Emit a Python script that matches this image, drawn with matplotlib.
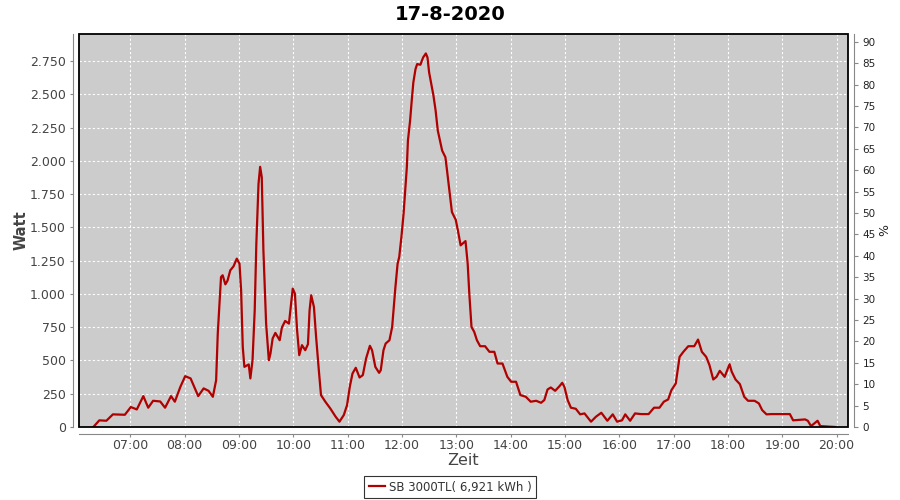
import matplotlib
matplotlib.use("Agg")
import matplotlib.pyplot as plt
from matplotlib.ticker import FuncFormatter, MultipleLocator
from matplotlib.patches import Rectangle

# time of day in hours, power in W
hours = [6.32, 6.43, 6.56, 6.68, 6.90, 7.01, 7.12, 7.24, 7.33, 7.42, 7.55, 7.64, 7.75, 7.82,
         7.92, 8.01, 8.11, 8.25, 8.35, 8.44, 8.52, 8.58, 8.61, 8.67, 8.70, 8.75, 8.79, 8.84,
         8.90, 8.96, 9.01, 9.04, 9.07, 9.10, 9.18, 9.21, 9.25, 9.29, 9.32, 9.36, 9.39, 9.42,
         9.45, 9.50, 9.55, 9.58, 9.62, 9.67, 9.75, 9.79, 9.85, 9.92, 9.96, 9.99, 10.03, 10.07,
         10.11, 10.16, 10.22, 10.27, 10.30, 10.33, 10.38, 10.42, 10.47, 10.51, 10.59, 10.68,
         10.78, 10.85, 10.93, 10.99, 11.04, 11.09, 11.15, 11.22, 11.28, 11.34, 11.41, 11.45,
         11.51, 11.58, 11.61, 11.66, 11.70, 11.77, 11.82, 11.88, 11.92, 11.95, 11.99, 12.03,
         12.06, 12.09, 12.11, 12.15, 12.18, 12.21, 12.25, 12.28, 12.34, 12.39, 12.44, 12.47,
         12.50, 12.54, 12.58, 12.62, 12.66, 12.70, 12.74, 12.80, 12.83, 12.88, 12.92, 12.99,
         13.03, 13.08, 13.17, 13.21, 13.24, 13.28, 13.33, 13.38, 13.44, 13.53, 13.61, 13.70,
         13.76, 13.85, 13.94, 14.01, 14.10, 14.18, 14.28, 14.37, 14.47, 14.56, 14.62, 14.68,
         14.74, 14.82, 14.90, 14.95, 14.99, 15.05, 15.11, 15.20, 15.28, 15.36, 15.48, 15.57,
         15.67, 15.78, 15.88, 15.96, 16.05, 16.11, 16.20, 16.29, 16.40, 16.54, 16.64, 16.74,
         16.82, 16.90, 16.96, 17.04, 17.11, 17.18, 17.27, 17.38, 17.45, 17.52, 17.60, 17.66,
         17.73, 17.79, 17.85, 17.94, 18.03, 18.07, 18.14, 18.22, 18.30, 18.37, 18.49, 18.57,
         18.63, 18.71, 18.80, 19.14, 19.20, 19.42, 19.47, 19.53, 19.59, 19.65, 19.70, 19.97]
watt = [0, 50, 47, 95, 92, 150, 132, 232, 145, 197, 192, 145, 232, 190,
        300, 382, 365, 232, 290, 272, 227, 352, 702, 1127, 1140, 1072, 1100, 1177,
        1207, 1265, 1227, 1025, 602, 452, 470, 365, 502, 877, 1377, 1827, 1955, 1877,
        1327, 777, 502, 552, 665, 707, 652, 747, 797, 777, 927, 1040, 1002, 727,
        540, 615, 577, 622, 877, 990, 902, 677, 427, 240, 190, 140,
        77, 40, 90, 165, 302, 402, 445, 372, 390, 515, 610, 577,
        452, 407, 427, 577, 627, 652, 752, 1052, 1227, 1277, 1427, 1602,
        1777, 1952, 2152, 2302, 2452, 2590, 2690, 2727, 2722, 2777, 2807, 2777,
        2665, 2577, 2490, 2377, 2227, 2152, 2077, 2027, 1927, 1752, 1615, 1557,
        1477, 1365, 1397, 1227, 1002, 752, 715, 652, 607, 607, 565, 565,
        477, 477, 377, 340, 340, 240, 227, 190, 197, 182, 202, 282,
        297, 272, 307, 332, 302, 202, 145, 137, 95, 102, 40, 77,
        107, 47, 95, 40, 50, 95, 47, 102, 97, 97, 145, 145,
        190, 207, 277, 327, 527, 565, 607, 607, 657, 565, 527, 465,
        357, 377, 422, 377, 472, 415, 357, 322, 227, 197, 197, 177,
        127, 95, 97, 97, 50, 57, 47, 7, 27, 47, 7, 0]

title = "17-8-2020"
series_label = "SB 3000TL( 6,921 kWh )"
hour_ticks = list(range(7, 21))

RED = "#b00000"
GRAY_TXT = "#444444"
AXIS_GRAY = "#888888"

plt.rcParams["font.family"] = "DejaVu Sans"
fig = plt.figure(figsize=(9, 5), dpi=100)
ax = fig.add_axes([79/900, 73/500, 769/900, 393/500])
ax.set_facecolor("#cccccc")

line, = ax.plot(hours, watt, color=RED, lw=1.6, label=series_label)

ax.set_xlim(6.056, 20.21)
ax.set_ylim(0, 2953)
ax.set_xticks(hour_ticks)
ax.xaxis.set_major_formatter(FuncFormatter(lambda v, p: f"{int(round(v)):02d}:00"))
ax.yaxis.set_major_locator(MultipleLocator(250))
ax.yaxis.set_major_formatter(FuncFormatter(lambda v, p: f"{int(v):,}".replace(",", ".")))
ax.grid(True, color="white", ls=(0, (2, 2)), lw=0.8)
ax.set_axisbelow(True)

for s in ("top", "right"):
    ax.spines[s].set_visible(False)
ax.spines["left"].set_position(("outward", 4))
ax.spines["bottom"].set_position(("outward", 5))
for s in ("left", "bottom"):
    ax.spines[s].set_color(AXIS_GRAY)
ax.tick_params(axis="both", colors=AXIS_GRAY, labelcolor=GRAY_TXT, labelsize=9, length=2)
ax.tick_params(axis="x", pad=1.5)
ax.add_patch(Rectangle((0, 0), 1, 1, transform=ax.transAxes, fill=False,
                       ec="black", lw=1.3, clip_on=False, zorder=5))

ax2 = ax.twinx()
ax2.set_ylim(0, 91.8)
ax2.yaxis.set_major_locator(MultipleLocator(5))
for s in ("top", "left", "bottom"):
    ax2.spines[s].set_visible(False)
ax2.spines["right"].set_position(("outward", 4))
ax2.spines["right"].set_color(AXIS_GRAY)
ax2.tick_params(axis="y", colors=AXIS_GRAY, labelcolor="#222222", labelsize=7.5, length=3)
ax2.set_ylabel("%", fontsize=9, color="#222222", labelpad=2)

ax.set_ylabel("Watt", fontsize=10.5, fontweight="bold", color=GRAY_TXT, labelpad=1)
ax.set_xlabel("Zeit", fontsize=11.5, color=GRAY_TXT, labelpad=1)
fig.suptitle(title, fontsize=14, fontweight="bold", y=0.99)

leg = fig.legend(handles=[line], loc="center", bbox_to_anchor=(0.5, 0.026), fontsize=8.5,
                 frameon=True, fancybox=False, handlelength=1.4, borderpad=0.35,
                 handletextpad=0.3)
leg.get_frame().set_edgecolor("black")
leg.get_frame().set_linewidth(0.8)
for t in leg.get_texts():
    t.set_color("#333333")

fig.savefig("out.png", dpi=100)
